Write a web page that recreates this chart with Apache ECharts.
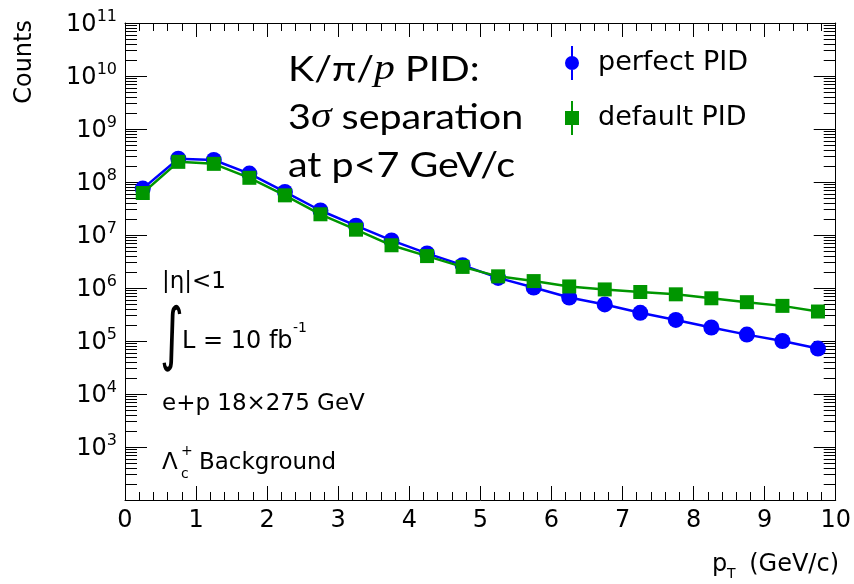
<!DOCTYPE html>
<html><head><meta charset="utf-8">
<script src="https://cdn.jsdelivr.net/npm/echarts@6/dist/echarts.min.js"></script>
<style>html,body{margin:0;padding:0;background:#fff}#c{width:854px;height:584px}</style>
</head><body><div id="c"></div>
<script>
// ---- data ----
const ptBins = [0.25,0.75,1.25,1.75,2.25,2.75,3.25,3.75,4.25,4.75,5.25,5.75,6.25,6.75,7.25,7.75,8.25,8.75,9.25,9.75];
const perfectPID = [7.5e7,2.75e8,2.6e8,1.44e8,6.5e7,2.9e7,1.5e7,7.9e6,4.5e6,2.7e6,1.55e6,1.02e6,6.6e5,4.9e5,3.4e5,2.5e5,1.8e5,1.32e5,1.0e5,7.2e4];
const defaultPID = [6.2e7,2.4e8,2.2e8,1.2e8,5.6e7,2.46e7,1.26e7,6.4e6,4.0e6,2.5e6,1.66e6,1.35e6,1.07e6,9.4e5,8.4e5,7.6e5,6.4e5,5.4e5,4.6e5,3.6e5];
const xTickLabels = ['0','1','2','3','4','5','6','7','8','9','10'];
const yExponents = [3,4,5,6,7,8,9,10,11];

const F = 'DejaVu Sans';
const minorLog = [];
for (let n = 2; n < 11; n++) for (let k = 2; k <= 9; k++) minorLog.push(n + Math.log10(k));

const chart = echarts.init(document.getElementById('c'));
const frameLine = {show:true, onZero:false, lineStyle:{color:'#000', width:1}};
const tickStyle = {color:'#000', width:1};
const xBase = {type:'value', min:0, max:10, interval:1, splitLine:{show:false}, axisLine:frameLine};
const logBase = {min:2, max:11, interval:1, type:'value', splitLine:{show:false}, axisLine:{show:false}};

const circIcon = 'path://M7,0h2v34h-2z M1,17a7,7 0 1 1 14,0a7,7 0 1 1 -14,0z';
const sqIcon = 'path://M7,0h2v34h-2z M1,10h14v14h-14z';

chart.setOption({
  animation:false,
  backgroundColor:'#fff',
  grid:{left:125, right:15, top:23, bottom:84},
  xAxis:[
    Object.assign({}, xBase, {position:'bottom',
      axisTick:{show:true, inside:true, length:14, lineStyle:tickStyle},
      minorTick:{show:true, splitNumber:5, length:8, lineStyle:tickStyle},
      axisLabel:{margin:9, fontFamily:F, fontSize:24, color:'#000', formatter:(v)=>xTickLabels[Math.round(v)]}}),
    Object.assign({}, xBase, {position:'top',
      axisTick:{show:true, inside:true, length:14, lineStyle:tickStyle},
      minorTick:{show:true, splitNumber:5, length:8, lineStyle:tickStyle},
      axisLabel:{show:false}})
  ],
  yAxis:[
    {type:'log', logBase:10, min:100, max:1e11, position:'left', axisLine:frameLine, axisTick:{show:false}, axisLabel:{show:false}, splitLine:{show:false}},
    {type:'log', logBase:10, min:100, max:1e11, position:'right', axisLine:frameLine, axisTick:{show:false}, axisLabel:{show:false}, splitLine:{show:false}},
    Object.assign({}, logBase, {position:'left',
      axisTick:{show:true, inside:true, length:22, lineStyle:tickStyle},
      axisLabel:{show:true, margin:8, formatter:(v)=> yExponents.includes(v) ? '{b|10}{e|'+v+'}' : '',
        rich:{b:{fontFamily:F, fontSize:24, color:'#000', lineHeight:28, verticalAlign:'bottom'},
              e:{fontFamily:F, fontSize:16, color:'#000', lineHeight:16, verticalAlign:'top'}}}}),
    Object.assign({}, logBase, {position:'left',
      axisTick:{show:true, inside:true, length:12, customValues:minorLog, lineStyle:tickStyle},
      axisLabel:{show:false}}),
    Object.assign({}, logBase, {position:'right',
      axisTick:{show:true, inside:true, length:22, lineStyle:tickStyle},
      axisLabel:{show:false}}),
    Object.assign({}, logBase, {position:'right',
      axisTick:{show:true, inside:true, length:12, customValues:minorLog, lineStyle:tickStyle},
      axisLabel:{show:false}})
  ],
  legend:{orient:'vertical', left:560, top:41, itemWidth:16, itemHeight:34, itemGap:21,
    data:[{name:'perfect PID', icon:circIcon},{name:'default PID', icon:sqIcon}],
    textStyle:{fontFamily:F, fontSize:27, color:'#000', padding:[0,0,0,13]}},
  series:[
    {name:'perfect PID', type:'line', xAxisIndex:0, yAxisIndex:0, data:ptBins.map((x,i)=>[x, perfectPID[i]]),
      symbol:'circle', symbolSize:16, itemStyle:{color:'#0000ff'}, lineStyle:{color:'#0000ff', width:2.5}, z:2},
    {name:'default PID', type:'line', xAxisIndex:0, yAxisIndex:0, data:ptBins.map((x,i)=>[x, defaultPID[i]]),
      symbol:'rect', symbolSize:14, itemStyle:{color:'#009600'}, lineStyle:{color:'#009600', width:2.5}, z:3}
  ],
  graphic:[
    {type:'text', x:25, y:20, rotation:Math.PI/2, style:{text:'Counts', font:'24px "DejaVu Sans"', fill:'#000', textAlign:'right', textVerticalAlign:'middle'}},
    {type:'text', x:712, y:565, style:{text:'p', font:'24px "DejaVu Sans"', fill:'#000', textAlign:'left', textVerticalAlign:'middle'}},
    {type:'text', x:727, y:574, style:{text:'T', font:'14px "DejaVu Sans"', fill:'#000', textAlign:'left', textVerticalAlign:'middle'}},
    {type:'text', x:839, y:565, style:{text:'(GeV/c)', font:'24px "DejaVu Sans"', fill:'#000', textAlign:'right', textVerticalAlign:'middle'}},
    {type:'text', x:162, y:282, style:{text:'|η|<1', font:'23px "DejaVu Sans"', fill:'#000', textAlign:'left', textVerticalAlign:'middle'}},
    {type:'text', x:160, y:339, scaleY:1.5, style:{text:'∫', font:'46px "DejaVu Sans"', fill:'#000', textAlign:'left', textVerticalAlign:'middle'}},
    {type:'text', x:182, y:342, style:{text:'L = 10 fb', font:'24px "DejaVu Sans"', fill:'#000', textAlign:'left', textVerticalAlign:'middle'}},
    {type:'text', x:293, y:328, style:{text:'-1', font:'14px "DejaVu Sans"', fill:'#000', textAlign:'left', textVerticalAlign:'middle'}},
    {type:'text', x:162, y:404, style:{text:'e+p 18×275 GeV', font:'23px "DejaVu Sans"', fill:'#000', textAlign:'left', textVerticalAlign:'middle'}},
    {type:'text', x:162, y:463, style:{text:'Λ', font:'23px "DejaVu Sans"', fill:'#000', textAlign:'left', textVerticalAlign:'middle'}},
    {type:'text', x:181, y:474, style:{text:'c', font:'14px "DejaVu Sans"', fill:'#000', textAlign:'left', textVerticalAlign:'middle'}},
    {type:'text', x:181, y:451, style:{text:'+', font:'14px "DejaVu Sans"', fill:'#000', textAlign:'left', textVerticalAlign:'middle'}},
    {type:'text', x:199, y:463, style:{text:'Background', font:'23px "DejaVu Sans"', fill:'#000', textAlign:'left', textVerticalAlign:'middle'}},
    {type:'text', x:288, y:70, scaleX:1.16, style:{text:'{n|K/π/}{i|p}{n| PID:}', font:'34px Lato', fill:'#000', textAlign:'left', textVerticalAlign:'middle',
      rich:{n:{fontFamily:'Lato', fontSize:34, color:'#000'}, i:{fontFamily:'Liberation Serif', fontStyle:'italic', fontSize:36, color:'#000'}}}},
    {type:'text', x:288, y:118, scaleX:1.16, style:{text:'{n|3}{i|σ}{n| separation}', font:'34px Lato', fill:'#000', textAlign:'left', textVerticalAlign:'middle',
      rich:{n:{fontFamily:'Lato', fontSize:34, color:'#000'}, i:{fontFamily:'Liberation Serif', fontStyle:'italic', fontSize:36, color:'#000'}}}},
    {type:'text', x:288, y:166, scaleX:1.16, style:{text:'at p<7 GeV/c', font:'34px Lato', fill:'#000', textAlign:'left', textVerticalAlign:'middle'}}
  ]
});
</script></body></html>
